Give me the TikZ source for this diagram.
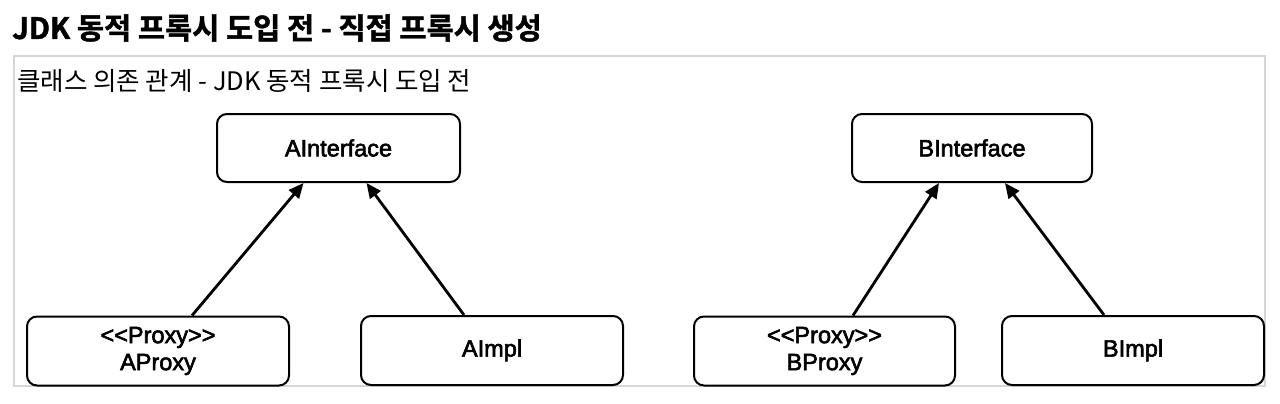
\documentclass[tikz,border=0pt]{standalone}
\usepackage{fontspec}
\setmainfont{Liberation Sans}
\newfontfamily\krfont{Noto Sans CJK KR}
\newfontfamily\krbold{Noto Sans CJK KR Bold}[FakeBold=1.5]
\newfontfamily\boxfont{Liberation Sans}[FakeBold=2.5]
\usetikzlibrary{arrows.meta}
\definecolor{framegray}{HTML}{D6D6D6}
\newcommand{\stereo}{{<}{<}Proxy{>}{>}}
\tikzset{
  classbox/.style={draw=black, line width=2pt, rounded corners=10pt, fill=white,
    align=center, font=\boxfont\fontsize{23.5}{27}\selectfont, inner sep=0pt},
  realize/.style={draw=black, line width=2.8pt, -{Triangle[length=15pt,width=13pt]}}
}
\begin{document}
\begin{tikzpicture}[x=1pt,y=-1pt]
\useasboundingbox[fill=white] (0,0) rectangle (1280,404);
\draw[framegray, line width=2pt] (14,56) rectangle (1265,386);
\node[anchor=base west, inner sep=0pt, font=\krbold\fontsize{29.5}{32}\selectfont] (title) at (12,39) {JDK 동적 프록시 도입 전 - 직접 프록시 생성};
\node[anchor=base west, inner sep=0pt, font=\krfont\fontsize{25.5}{28}\selectfont] (sub) at (17,91) {클래스 의존 관계 - JDK 동적 프록시 도입 전};

\node[classbox, minimum width=243pt, minimum height=68pt] (ai) at (338.5,148) {AInterface};
\node[classbox, minimum width=240pt, minimum height=68pt] (bi) at (972,148) {BInterface};
\node[classbox, minimum width=262pt, minimum height=69pt] (ap) at (158,351) {\stereo\\AProxy};
\node[classbox, minimum width=262pt, minimum height=69pt] (aimpl) at (492,350.5) {AImpl};
\node[classbox, minimum width=261pt, minimum height=69pt] (bp) at (824.5,351) {\stereo\\BProxy};
\node[classbox, minimum width=262pt, minimum height=69pt] (bimpl) at (1133,350.5) {BImpl};

\draw[realize] ([xshift=34pt]ap.north) -- ([xshift=-35pt]ai.south);
\draw[realize] ([xshift=-28pt]aimpl.north) -- ([xshift=28pt]ai.south);
\draw[realize] ([xshift=28.5pt]bp.north) -- ([xshift=-33pt]bi.south);
\draw[realize] ([xshift=-29pt]bimpl.north) -- ([xshift=33pt]bi.south);
\end{tikzpicture}
\end{document}
